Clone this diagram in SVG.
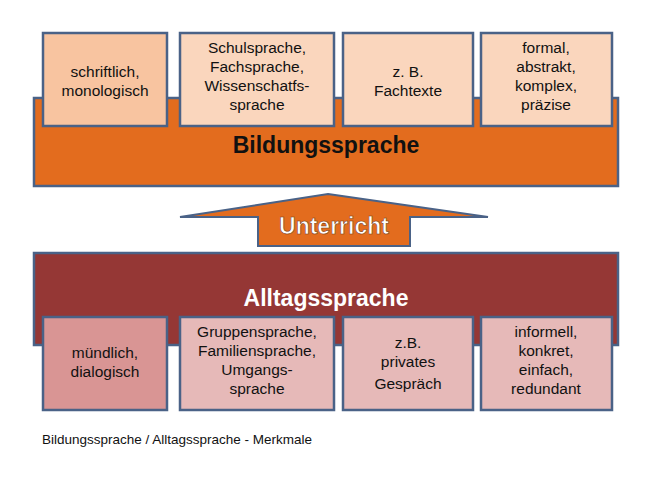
<svg xmlns="http://www.w3.org/2000/svg" width="654" height="480" viewBox="0 0 654 480">
<style>
.bx{stroke:#4A6287;stroke-width:2.5}
.t{font-family:"Liberation Sans",Arial,sans-serif;font-size:15.5px;fill:#111;text-anchor:middle}
.h{font-family:"Liberation Sans",Arial,sans-serif;font-size:23px;font-weight:bold;text-anchor:middle}
</style>
<rect width="654" height="480" fill="#fff"/>
<g id="bildung">
<rect x="34" y="98" width="584" height="88" fill="#E36C1E" class="bx"/>
<text class="h" x="326" y="153" fill="#111">Bildungssprache</text>
</g>
<g id="b1"><rect x="43" y="33" width="124" height="93" fill="#F8C4A0" class="bx"/>
<text class="t" x="105" y="77">schriftlich,</text><text class="t" x="105" y="96">monologisch</text></g>
<g id="b2"><rect x="180" y="33" width="154" height="93" fill="#FAD6BD" class="bx"/>
<text class="t" x="257" y="53">Schulsprache,</text><text class="t" x="257" y="72">Fachsprache,</text><text class="t" x="257" y="91">Wissenschatfs-</text><text class="t" x="257" y="110">sprache</text></g>
<g id="b3"><rect x="343" y="33" width="130" height="93" fill="#FAD6BD" class="bx"/>
<text class="t" x="408" y="77">z. B.</text><text class="t" x="408" y="96">Fachtexte</text></g>
<g id="b4"><rect x="481" y="33" width="131" height="93" fill="#FAD6BD" class="bx"/>
<text class="t" x="546" y="53">formal,</text><text class="t" x="546" y="72">abstrakt,</text><text class="t" x="546" y="91">komplex,</text><text class="t" x="546" y="110">präzise</text></g>
<g id="connectors">
<polygon points="328,194 488,217 410,217 410,246 258,246 258,217 180,217" fill="#E36C1E" stroke="#4A6287" stroke-width="2"/>
</g>
<g id="unterricht"><text class="h" x="334" y="234" fill="#fff" stroke="#7a3a10" stroke-width="0.6">Unterricht</text></g>
<g id="alltag">
<rect x="34" y="253" width="584" height="92" fill="#953735" class="bx"/>
<text class="h" x="326" y="306" fill="#fff">Alltagssprache</text>
</g>
<g id="a1"><rect x="43" y="317" width="124" height="93" fill="#D99594" class="bx"/>
<text class="t" x="105" y="358">mündlich,</text><text class="t" x="105" y="377">dialogisch</text></g>
<g id="a2"><rect x="180" y="317" width="154" height="93" fill="#E6B9B8" class="bx"/>
<text class="t" x="257" y="337">Gruppensprache,</text><text class="t" x="257" y="356">Familiensprache,</text><text class="t" x="257" y="375">Umgangs-</text><text class="t" x="257" y="394">sprache</text></g>
<g id="a3"><rect x="343" y="317" width="130" height="93" fill="#E6B9B8" class="bx"/>
<text class="t" x="408" y="348">z.B.</text><text class="t" x="408" y="367">privates</text><text class="t" x="408" y="389">Gespräch</text></g>
<g id="a4"><rect x="481" y="317" width="131" height="93" fill="#E6B9B8" class="bx"/>
<text class="t" x="546" y="337">informell,</text><text class="t" x="546" y="356">konkret,</text><text class="t" x="546" y="375">einfach,</text><text class="t" x="546" y="394">redundant</text></g>
<text x="42" y="444" font-family="Liberation Sans,Arial,sans-serif" font-size="13.5" fill="#111">Bildungssprache / Alltagssprache - Merkmale</text>
</svg>
